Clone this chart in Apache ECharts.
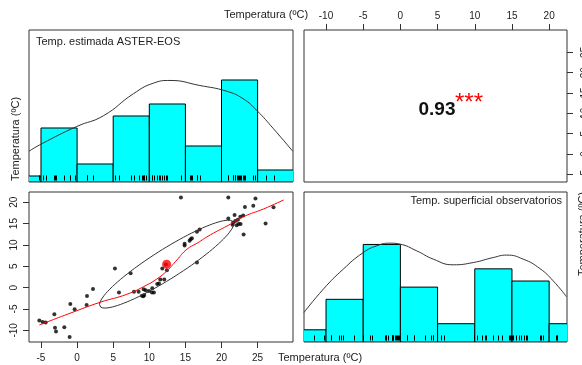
<!DOCTYPE html>
<html>
<head>
<meta charset="utf-8">
<script src="https://cdn.jsdelivr.net/npm/echarts@6/dist/echarts.min.js"></script>
<style>
  html, body { margin: 0; padding: 0; background: #fff; }
  #main { width: 582px; height: 365px; }
</style>
</head>
<body>
<div id="main"></div>
<script>
// datos
var asterTemp = [-5.23, -4.77, -4.35, -3.15, -3.06, -2.92, -1.77, -1.03, -0.94, -0.34, 1.32, 1.37, 2.2, 5.24, 5.8, 7.41, 7.88, 8.52, 9.21, 8.98, 9.17, 9.3, 9.49, 9.95, 10.41, 10.37, 10.64, 11.1, 11.34, 11.52, 12.07, 11.8, 12.44, 14.38, 14.89, 14.89, 15.58, 15.72, 15.9, 16.6, 16.97, 16.6, 20.94, 20.94, 21.81, 21.53, 21.6, 21.9, 22.27, 22.37, 22.6, 22.64, 23.0, 23.06, 23.24, 24.4, 24.7, 26.1, 27.2, 12.3, 22.1];
var obsTemp = [-7.73, -8.05, -8.2, -6.25, -9.38, -10.3, -9.3, -11.56, -3.83, -5.08, -4.06, -1.95, -0.31, 4.45, -1.17, 3.36, -0.94, -0.94, -0.39, -1.88, -2.03, -1.72, -0.63, -0.78, -0.16, -1.17, -1.17, 0.86, 0.94, 1.88, 1.88, 4.45, 4.06, 21.1, 9.84, 10.3, 11.0, 11.33, 11.56, 13.1, 13.6, 5.86, 21.1, 16.17, 17.0, 14.7, 15.2, 15.6, 15.9, 14.9, 16.6, 14.9, 16.9, 12.42, 18.9, 19.2, 20.86, 15.0, 18.8, 5.4, 14.6];

var asterBreaks = [-10, -5, 0, 5, 10, 15, 20, 25, 30];
var asterCounts = [1, 9, 3, 11, 13, 6, 17, 2];
var obsBreaks = [-15, -10, -5, 0, 5, 10, 15, 20, 25];
var obsCounts = [2, 7, 16, 9, 3, 12, 10, 3];

var asterDensity = [[-6.66, 5.13], [-4.9, 6.37], [-0.05, 9.25], [3.63, 11.03], [7.79, 14.7], [10.56, 16.47], [12.87, 16.92], [17.0, 16.08], [20.7, 15.13], [23.0, 13.87], [24.9, 11.9], [27.2, 8.87], [29.86, 5.13]];
var obsDensity = [[-12.96, 4.84], [-10.36, 8.67], [-7.68, 11.95], [-4.99, 14.67], [-3.19, 15.77], [-1.4, 16.21], [-0.06, 16.05], [2.19, 14.95], [4.42, 13.59], [7.1, 12.66], [9.79, 13.03], [12.48, 13.85], [14.28, 14.25], [16.51, 13.59], [18.75, 12.05], [20.54, 10.03], [22.34, 7.41]];

var loessLine = [[-5.24, -8.76], [-0.98, -6.01], [3.18, -3.44], [6.89, -1.56], [9.66, 0.62], [11.05, 2.03], [12.43, 3.9], [13.82, 6.48], [15.21, 8.99], [16.6, 10.39], [18.44, 12.34], [21.21, 14.84], [23.06, 16.63], [25.83, 18.43], [28.6, 20.54]];

var meanPoint = [12.4, 5.5];
var ellSd = [9.3, 10.3];
var ellR = 0.92;
var corrText = '0.93';
var corrStars = '***';

var asterTicks = [-5, 0, 5, 10, 15, 20, 25];
var obsTicks = [-10, -5, 0, 5, 10, 15, 20];

// elipse de correlacion
var ellipse = [];
for (var i = 0; i <= 100; i++) {
  var t = i / 100 * 2 * Math.PI;
  ellipse.push([
    meanPoint[0] + ellSd[0] * Math.cos(t),
    meanPoint[1] + ellSd[1] * (ellR * Math.cos(t) + Math.sqrt(1 - ellR * ellR) * Math.sin(t))
  ]);
}

function histData(breaks, counts) {
  return counts.map(function (c, i) { return [breaks[i], breaks[i + 1], c]; });
}

function renderHist(params, api) {
  var p0 = api.coord([api.value(0), api.value(2)]);
  var p1 = api.coord([api.value(1), 0]);
  return {
    type: 'rect',
    shape: { x: p0[0], y: p0[1], width: p1[0] - p0[0], height: p1[1] - p0[1] },
    style: { fill: '#00ffff', stroke: '#000', lineWidth: 1 }
  };
}

function renderRug(params, api) {
  var p = api.coord([api.value(0), 0]);
  var bottom = params.coordSys.y + params.coordSys.height - 1.5;
  var x = Math.round(p[0]) + 0.5;
  return {
    type: 'line',
    shape: { x1: x, y1: bottom, x2: x, y2: bottom - 5 },
    style: { stroke: '#000', lineWidth: 1 }
  };
}

var frame = { show: true, borderColor: '#333', borderWidth: 1, backgroundColor: 'transparent', outerBoundsMode: 'none', containLabel: false };
var hidden = { show: false };
var noLine = { show: false, onZero: false };
var tickFont = { fontFamily: 'Liberation Sans', fontSize: 10, color: '#222' };

var myChart = echarts.init(document.getElementById('main'));
var option = {
  animation: false,
  grid: [
    Object.assign({ left: 29, top: 30, width: 264, height: 152 }, frame),
    Object.assign({ left: 304, top: 30, width: 263, height: 152 }, frame),
    Object.assign({ left: 29, top: 192, width: 264, height: 150 }, frame),
    Object.assign({ left: 304, top: 192, width: 263, height: 150 }, frame)
  ],
  xAxis: [
    { gridIndex: 0, type: 'value', min: -6.66, max: 29.9, axisLine: noLine, axisTick: hidden, axisLabel: hidden, splitLine: hidden },
    {
      gridIndex: 1, type: 'value', position: 'top', min: -12.96, max: 22.4,
      axisLine: noLine, splitLine: hidden,
      axisTick: { show: true, length: 6, lineStyle: { color: '#333' }, customValues: obsTicks },
      axisLabel: Object.assign({ show: true, margin: 9, customValues: obsTicks }, tickFont)
    },
    {
      gridIndex: 2, type: 'value', position: 'bottom', min: -6.66, max: 29.9,
      axisLine: noLine, splitLine: hidden,
      axisTick: { show: true, length: 6, lineStyle: { color: '#333' }, customValues: asterTicks },
      axisLabel: Object.assign({ show: true, margin: 11, customValues: asterTicks }, tickFont)
    },
    { gridIndex: 3, type: 'value', min: -12.96, max: 22.4, axisLine: noLine, axisTick: hidden, axisLabel: hidden, splitLine: hidden }
  ],
  yAxis: [
    { gridIndex: 0, type: 'value', min: 0, max: 25.33, axisLine: noLine, axisTick: hidden, axisLabel: hidden, splitLine: hidden },
    {
      gridIndex: 1, type: 'value', position: 'right', min: -6.9, max: 30.5,
      axisLine: noLine, splitLine: hidden,
      axisTick: { show: true, length: 6, lineStyle: { color: '#333' }, customValues: asterTicks },
      axisLabel: Object.assign({ show: true, margin: 13, rotate: 90, customValues: asterTicks }, tickFont)
    },
    {
      gridIndex: 2, type: 'value', position: 'left', min: -12.74, max: 22.4,
      axisLine: noLine, splitLine: hidden,
      axisTick: { show: true, length: 6, lineStyle: { color: '#333' }, customValues: obsTicks },
      axisLabel: Object.assign({ show: true, margin: 10, rotate: 90, customValues: obsTicks }, tickFont)
    },
    { gridIndex: 3, type: 'value', min: 0, max: 24.6, axisLine: noLine, axisTick: hidden, axisLabel: hidden, splitLine: hidden }
  ],
  series: [
    // histograma ASTER
    { type: 'custom', xAxisIndex: 0, yAxisIndex: 0, clip: true, renderItem: renderHist, data: histData(asterBreaks, asterCounts) },
    { type: 'custom', xAxisIndex: 0, yAxisIndex: 0, clip: true, renderItem: renderRug, data: asterTemp.map(function (v) { return [v]; }) },
    { type: 'line', xAxisIndex: 0, yAxisIndex: 0, data: asterDensity, smooth: true, showSymbol: false, clip: true, lineStyle: { color: '#333', width: 1 } },
    // histograma observatorios
    { type: 'custom', xAxisIndex: 3, yAxisIndex: 3, clip: true, renderItem: renderHist, data: histData(obsBreaks, obsCounts) },
    { type: 'custom', xAxisIndex: 3, yAxisIndex: 3, clip: true, renderItem: renderRug, data: obsTemp.map(function (v) { return [v]; }) },
    { type: 'line', xAxisIndex: 3, yAxisIndex: 3, data: obsDensity, smooth: true, showSymbol: false, clip: true, lineStyle: { color: '#333', width: 1 } },
    // dispersion
    {
      type: 'scatter', xAxisIndex: 2, yAxisIndex: 2, symbolSize: 4,
      itemStyle: { color: '#000' },
      data: asterTemp.map(function (v, i) { return [v, obsTemp[i]]; })
    },
    { type: 'line', xAxisIndex: 2, yAxisIndex: 2, data: ellipse, showSymbol: false, lineStyle: { color: '#333', width: 1 } },
    { type: 'line', xAxisIndex: 2, yAxisIndex: 2, data: loessLine, smooth: true, showSymbol: false, lineStyle: { color: '#ff0000', width: 1 } },
    { type: 'scatter', xAxisIndex: 2, yAxisIndex: 2, symbolSize: 9, itemStyle: { color: '#ff0000' }, data: [meanPoint] },
    // panel 1 vacio, solo ejes
    { type: 'line', xAxisIndex: 1, yAxisIndex: 1, data: [] }
  ],
  graphic: [
    { type: 'text', x: 36, y: 42, style: { text: 'Temp. estimada ASTER-EOS', font: '11px "Liberation Sans"', fill: '#222', textAlign: 'left', textVerticalAlign: 'middle' } },
    { type: 'text', x: 562, y: 201, style: { text: 'Temp. superficial observatorios', font: '11px "Liberation Sans"', fill: '#222', textAlign: 'right', textVerticalAlign: 'middle' } },
    { type: 'text', x: 437, y: 110, style: { text: corrText, font: 'bold 19px "Liberation Sans"', fill: '#111', textAlign: 'center', textVerticalAlign: 'middle' } },
    { type: 'text', x: 455, y: 103, style: { text: corrStars, font: '24px "Liberation Sans"', fill: '#ff0000', textAlign: 'left', textVerticalAlign: 'middle' } },
    { type: 'text', x: 266, y: 15, style: { text: 'Temperatura (ºC)', font: '11px "Liberation Sans"', fill: '#222', textAlign: 'center', textVerticalAlign: 'middle' } },
    { type: 'text', x: 320, y: 358, style: { text: 'Temperatura (ºC)', font: '11px "Liberation Sans"', fill: '#222', textAlign: 'center', textVerticalAlign: 'middle' } },
    { type: 'text', x: 16, y: 139, rotation: Math.PI / 2, style: { text: 'Temperatura (ºC)', font: '11px "Liberation Sans"', fill: '#222', textAlign: 'center', textVerticalAlign: 'middle' } },
    { type: 'text', x: 583, y: 234, rotation: Math.PI / 2, style: { text: 'Temperatura (ºC)', font: '11px "Liberation Sans"', fill: '#222', textAlign: 'center', textVerticalAlign: 'middle' } }
  ]
};
myChart.setOption(option);
</script>
</body>
</html>
